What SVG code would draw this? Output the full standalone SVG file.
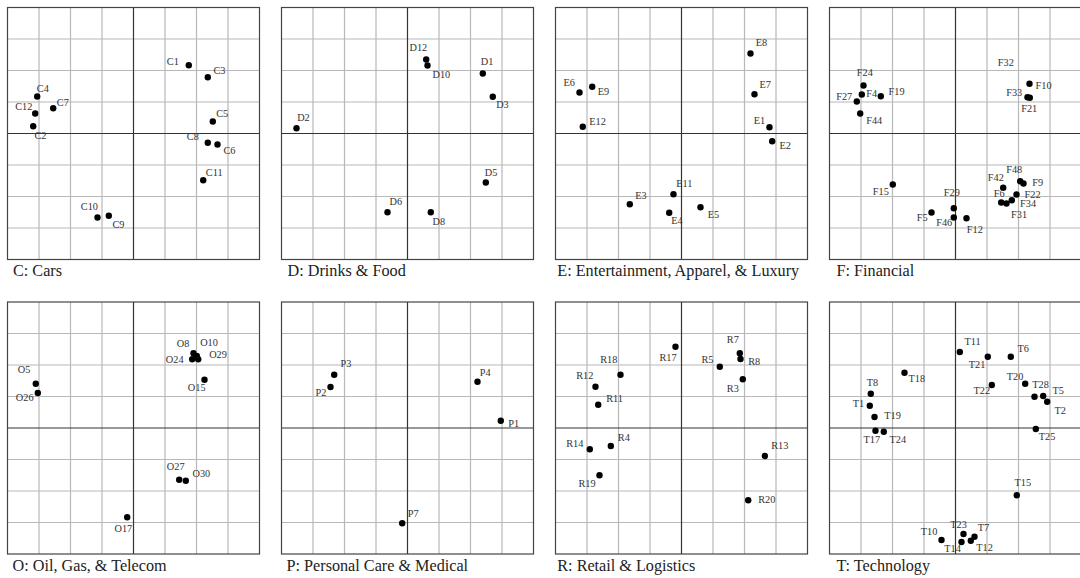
<svg xmlns="http://www.w3.org/2000/svg" xmlns:xlink="http://www.w3.org/1999/xlink" width="1080" height="578" viewBox="0 0 1080 578">
<style>
.minor{stroke:#b8b8b8;stroke-width:1.2;fill:none}
.axis{stroke:#333;stroke-width:1.2;fill:none}
.frame{stroke:#444;stroke-width:1.2;fill:none}
.dot{fill:#000}
.lb{font-family:"Liberation Serif",serif;font-size:10.3px;fill:#333}
.cap{font-family:"Liberation Serif",serif;font-size:16.2px;fill:#222}
</style>
<defs>
<g id="gridtpl">
<path class="minor" d="M31.5 0V252M63 0V252M94.5 0V252M157.5 0V252M189 0V252M220.5 0V252M0 31.5H252M0 63H252M0 94.5H252M0 157.5H252M0 189H252M0 220.5H252"/>
<path class="axis" d="M126 0V252M0 126H252"/>
<rect class="frame" x="0" y="0" width="252" height="252"/>
</g>
</defs>
<rect width="1080" height="578" fill="#fff"/>
<g id="connectors"/>

<g id="panelC" transform="translate(7.5,7.5)">
<use xlink:href="#gridtpl"/>
<g id="C1"><circle class="dot" cx="181.3" cy="57.7" r="3.2"/><text class="lb" x="159.3" y="57.7">C1</text></g>
<g id="C3"><circle class="dot" cx="200.3" cy="69.7" r="3.2"/><text class="lb" x="206" y="66">C3</text></g>
<g id="C4"><circle class="dot" cx="29.7" cy="89" r="3.2"/><text class="lb" x="29.3" y="84.3">C4</text></g>
<g id="C7"><circle class="dot" cx="45.7" cy="100.7" r="3.2"/><text class="lb" x="49.3" y="98.7">C7</text></g>
<g id="C12"><circle class="dot" cx="27.7" cy="106" r="3.2"/><text class="lb" x="7.7" y="102.7">C12</text></g>
<g id="C2"><circle class="dot" cx="25.7" cy="118.7" r="3.2"/><text class="lb" x="27" y="131.7">C2</text></g>
<g id="C5"><circle class="dot" cx="205.3" cy="114" r="3.2"/><text class="lb" x="208.7" y="109.3">C5</text></g>
<g id="C8"><circle class="dot" cx="200.3" cy="135.3" r="3.2"/><text class="lb" x="179.3" y="132">C8</text></g>
<g id="C6"><circle class="dot" cx="210" cy="137" r="3.2"/><text class="lb" x="216" y="146">C6</text></g>
<g id="C11"><circle class="dot" cx="195.7" cy="172.7" r="3.2"/><text class="lb" x="198.3" y="168.3">C11</text></g>
<g id="C10"><circle class="dot" cx="90" cy="210" r="3.2"/><text class="lb" x="73.3" y="202.7">C10</text></g>
<g id="C9"><circle class="dot" cx="101.3" cy="208.3" r="3.2"/><text class="lb" x="105" y="220.3">C9</text></g>
<text class="cap" x="5.5" y="268">C: Cars</text>
</g>

<g id="panelD" transform="translate(281.5,7.5)">
<use xlink:href="#gridtpl"/>
<g id="D12"><circle class="dot" cx="144.7" cy="52" r="3.2"/><text class="lb" x="128" y="43.3">D12</text></g>
<g id="D10"><circle class="dot" cx="146" cy="58" r="3.2"/><text class="lb" x="151" y="70">D10</text></g>
<g id="D1"><circle class="dot" cx="201.3" cy="66" r="3.2"/><text class="lb" x="199.3" y="57">D1</text></g>
<g id="D3"><circle class="dot" cx="211.3" cy="89.3" r="3.2"/><text class="lb" x="214.7" y="100">D3</text></g>
<g id="D2"><circle class="dot" cx="15" cy="120.7" r="3.2"/><text class="lb" x="15.7" y="113.3">D2</text></g>
<g id="D5"><circle class="dot" cx="204.3" cy="175" r="3.2"/><text class="lb" x="203.3" y="168.3">D5</text></g>
<g id="D6"><circle class="dot" cx="106" cy="204.7" r="3.2"/><text class="lb" x="108" y="197.7">D6</text></g>
<g id="D8"><circle class="dot" cx="149.3" cy="204.7" r="3.2"/><text class="lb" x="151" y="217.7">D8</text></g>
<text class="cap" x="6" y="268">D: Drinks &amp; Food</text>
</g>

<g id="panelE" transform="translate(555.5,7.5)">
<use xlink:href="#gridtpl"/>
<g id="E8"><circle class="dot" cx="195" cy="46" r="3.2"/><text class="lb" x="200.3" y="38.7">E8</text></g>
<g id="E6"><circle class="dot" cx="24" cy="85" r="3.2"/><text class="lb" x="8" y="78.7">E6</text></g>
<g id="E9"><circle class="dot" cx="36.7" cy="79.3" r="3.2"/><text class="lb" x="42.3" y="87">E9</text></g>
<g id="E7"><circle class="dot" cx="199" cy="86.7" r="3.2"/><text class="lb" x="204" y="80.3">E7</text></g>
<g id="E12"><circle class="dot" cx="27.3" cy="119.3" r="3.2"/><text class="lb" x="33.7" y="117">E12</text></g>
<g id="E1"><circle class="dot" cx="214" cy="119.7" r="3.2"/><text class="lb" x="198.3" y="116.7">E1</text></g>
<g id="E2"><circle class="dot" cx="216.7" cy="133.7" r="3.2"/><text class="lb" x="224" y="141.3">E2</text></g>
<g id="E11"><circle class="dot" cx="118" cy="186.7" r="3.2"/><text class="lb" x="120.7" y="179.3">E11</text></g>
<g id="E3"><circle class="dot" cx="74.3" cy="196.7" r="3.2"/><text class="lb" x="79.7" y="191.3">E3</text></g>
<g id="E4"><circle class="dot" cx="113.7" cy="205.3" r="3.2"/><text class="lb" x="115.7" y="216.7">E4</text></g>
<g id="E5"><circle class="dot" cx="145" cy="199.7" r="3.2"/><text class="lb" x="152.3" y="210">E5</text></g>
<text class="cap" x="1.8" y="268">E: Entertainment, Apparel, &amp; Luxury</text>
</g>

<g id="panelF" transform="translate(829.5,7.5)">
<use xlink:href="#gridtpl"/>
<text class="lb" x="168.3" y="58.3">F32</text>
<g id="F10"><circle class="dot" cx="200" cy="76.3" r="3.2"/><text class="lb" x="206" y="81">F10</text></g>
<g id="F33"><circle class="dot" cx="198" cy="89.7" r="3.2"/><text class="lb" x="176.7" y="88">F33</text></g>
<g id="F21"><circle class="dot" cx="200.3" cy="90.3" r="3.2"/><text class="lb" x="191.7" y="104.3">F21</text></g>
<g id="F24"><circle class="dot" cx="34" cy="78" r="3.2"/><text class="lb" x="27.3" y="68">F24</text></g>
<g id="F4"><circle class="dot" cx="32.3" cy="87" r="3.2"/><text class="lb" x="36.7" y="89.3">F4</text></g>
<g id="F19"><circle class="dot" cx="51.3" cy="88.7" r="3.2"/><text class="lb" x="59" y="87">F19</text></g>
<g id="F27"><circle class="dot" cx="27.3" cy="94" r="3.2"/><text class="lb" x="6.7" y="92.7">F27</text></g>
<g id="F44"><circle class="dot" cx="30.7" cy="106" r="3.2"/><text class="lb" x="36.7" y="116">F44</text></g>
<g id="F15"><circle class="dot" cx="63.3" cy="177" r="3.2"/><text class="lb" x="43.3" y="187.7">F15</text></g>
<g id="F29"><circle class="dot" cx="124.3" cy="200.7" r="3.2"/><text class="lb" x="114.3" y="188.3">F29</text></g>
<g id="F5"><circle class="dot" cx="102" cy="205" r="3.2"/><text class="lb" x="87.3" y="213.7">F5</text></g>
<g id="F46"><circle class="dot" cx="124.3" cy="210" r="3.2"/><text class="lb" x="106.7" y="218.3">F46</text></g>
<g id="F12"><circle class="dot" cx="137" cy="210.7" r="3.2"/><text class="lb" x="137.3" y="225.3">F12</text></g>
<g id="F42"><circle class="dot" cx="173.7" cy="180.3" r="3.2"/><text class="lb" x="158.3" y="173.7">F42</text></g>
<g id="F48"><circle class="dot" cx="190.7" cy="173.7" r="3.2"/><text class="lb" x="176.7" y="165">F48</text></g>
<g id="F9"><circle class="dot" cx="194" cy="176" r="3.2"/><text class="lb" x="202.7" y="178.3">F9</text></g>
<g id="F6"><circle class="dot" cx="171.7" cy="195" r="3.2"/><text class="lb" x="164.3" y="189.3">F6</text></g>
<g id="F31"><circle class="dot" cx="177" cy="196" r="3.2"/><text class="lb" x="181.5" y="210.5">F31</text></g>
<g id="F34"><circle class="dot" cx="182.3" cy="192.7" r="3.2"/><text class="lb" x="190.5" y="199.5">F34</text></g>
<g id="F22"><circle class="dot" cx="187" cy="187" r="3.2"/><text class="lb" x="195" y="190.3">F22</text></g>
<text class="cap" x="7" y="268">F: Financial</text>
</g>

<g id="panelO" transform="translate(7.5,302)">
<use xlink:href="#gridtpl"/>
<g id="O8"><circle class="dot" cx="186" cy="51.3" r="3.2"/><text class="lb" x="169.3" y="45.3">O8</text></g>
<g id="O10"><circle class="dot" cx="189.3" cy="54" r="3.2"/><text class="lb" x="192.7" y="44.3">O10</text></g>
<g id="O24"><circle class="dot" cx="184.7" cy="57.3" r="3.2"/><text class="lb" x="158.3" y="60.7">O24</text></g>
<g id="O29"><circle class="dot" cx="190.7" cy="57.3" r="3.2"/><text class="lb" x="201.7" y="55.5">O29</text></g>
<g id="O15"><circle class="dot" cx="197" cy="77.7" r="3.2"/><text class="lb" x="180.3" y="88.7">O15</text></g>
<g id="O5"><circle class="dot" cx="28.3" cy="81.7" r="3.2"/><text class="lb" x="10.3" y="71.3">O5</text></g>
<g id="O26"><circle class="dot" cx="30.3" cy="91" r="3.2"/><text class="lb" x="8.3" y="98.7">O26</text></g>
<g id="O27"><circle class="dot" cx="171.7" cy="177.7" r="3.2"/><text class="lb" x="159.3" y="168">O27</text></g>
<g id="O30"><circle class="dot" cx="178.3" cy="178.7" r="3.2"/><text class="lb" x="185" y="174.7">O30</text></g>
<g id="O17"><circle class="dot" cx="119.7" cy="215.3" r="3.2"/><text class="lb" x="107" y="229.7">O17</text></g>
<text class="cap" x="5" y="269">O: Oil, Gas, &amp; Telecom</text>
</g>

<g id="panelP" transform="translate(281.5,302)">
<use xlink:href="#gridtpl"/>
<g id="P3"><circle class="dot" cx="52.7" cy="72.7" r="3.2"/><text class="lb" x="59" y="64.7">P3</text></g>
<g id="P2"><circle class="dot" cx="49" cy="85" r="3.2"/><text class="lb" x="34" y="94">P2</text></g>
<g id="P4"><circle class="dot" cx="196" cy="79.7" r="3.2"/><text class="lb" x="198.3" y="74">P4</text></g>
<g id="P1"><circle class="dot" cx="219.3" cy="118.7" r="3.2"/><text class="lb" x="226.7" y="125.3">P1</text></g>
<g id="P7"><circle class="dot" cx="120.7" cy="221.3" r="3.2"/><text class="lb" x="126.3" y="214.7">P7</text></g>
<text class="cap" x="5" y="269">P: Personal Care &amp; Medical</text>
</g>

<g id="panelR" transform="translate(555.5,302)">
<use xlink:href="#gridtpl"/>
<g id="R17"><circle class="dot" cx="120" cy="44.7" r="3.2"/><text class="lb" x="104" y="59">R17</text></g>
<g id="R7"><circle class="dot" cx="184.3" cy="51.3" r="3.2"/><text class="lb" x="171.3" y="41.3">R7</text></g>
<g id="R8"><circle class="dot" cx="185" cy="57" r="3.2"/><text class="lb" x="192.7" y="63">R8</text></g>
<g id="R5"><circle class="dot" cx="164.3" cy="64.7" r="3.2"/><text class="lb" x="146" y="60.7">R5</text></g>
<g id="R3"><circle class="dot" cx="187.3" cy="77.3" r="3.2"/><text class="lb" x="171.3" y="89.7">R3</text></g>
<g id="R18"><circle class="dot" cx="65" cy="72.7" r="3.2"/><text class="lb" x="44.7" y="60.7">R18</text></g>
<g id="R12"><circle class="dot" cx="40" cy="84.7" r="3.2"/><text class="lb" x="20.7" y="77.3">R12</text></g>
<g id="R11"><circle class="dot" cx="42.7" cy="102.7" r="3.2"/><text class="lb" x="50.7" y="100.3">R11</text></g>
<g id="R14"><circle class="dot" cx="34.3" cy="147.3" r="3.2"/><text class="lb" x="10.7" y="144.7">R14</text></g>
<g id="R4"><circle class="dot" cx="55.3" cy="144" r="3.2"/><text class="lb" x="62.3" y="138.7">R4</text></g>
<g id="R19"><circle class="dot" cx="44" cy="173.3" r="3.2"/><text class="lb" x="23" y="184.7">R19</text></g>
<g id="R13"><circle class="dot" cx="209.3" cy="154" r="3.2"/><text class="lb" x="215.7" y="147.3">R13</text></g>
<g id="R20"><circle class="dot" cx="192.7" cy="198.3" r="3.2"/><text class="lb" x="202.7" y="201.3">R20</text></g>
<text class="cap" x="1.8" y="269">R: Retail &amp; Logistics</text>
</g>

<g id="panelT" transform="translate(829.5,302)">
<use xlink:href="#gridtpl"/>
<g id="T11"><circle class="dot" cx="130.3" cy="50" r="3.2"/><text class="lb" x="135" y="43">T11</text></g>
<g id="T21"><circle class="dot" cx="158.3" cy="54.7" r="3.2"/><text class="lb" x="139.3" y="66.3">T21</text></g>
<g id="T6"><circle class="dot" cx="181.3" cy="54.7" r="3.2"/><text class="lb" x="188" y="49.7">T6</text></g>
<g id="T18"><circle class="dot" cx="75" cy="70.7" r="3.2"/><text class="lb" x="79" y="80.3">T18</text></g>
<g id="T20"><circle class="dot" cx="195.7" cy="81.7" r="3.2"/><text class="lb" x="177.3" y="78">T20</text></g>
<g id="T22"><circle class="dot" cx="162.3" cy="83" r="3.2"/><text class="lb" x="144" y="92.3">T22</text></g>
<g id="T28"><circle class="dot" cx="205" cy="94.7" r="3.2"/><text class="lb" x="202.7" y="86.3">T28</text></g>
<g id="T5"><circle class="dot" cx="213.7" cy="94" r="3.2"/><text class="lb" x="223" y="92">T5</text></g>
<g id="T2"><circle class="dot" cx="217.7" cy="99.7" r="3.2"/><text class="lb" x="225" y="112">T2</text></g>
<g id="T8"><circle class="dot" cx="41.3" cy="91.7" r="3.2"/><text class="lb" x="37.3" y="84">T8</text></g>
<g id="T1"><circle class="dot" cx="40.3" cy="103.7" r="3.2"/><text class="lb" x="23.3" y="104.7">T1</text></g>
<g id="T19"><circle class="dot" cx="45" cy="115" r="3.2"/><text class="lb" x="54.7" y="117.3">T19</text></g>
<g id="T17"><circle class="dot" cx="46" cy="128.7" r="3.2"/><text class="lb" x="34" y="141.3">T17</text></g>
<g id="T24"><circle class="dot" cx="54.3" cy="129.7" r="3.2"/><text class="lb" x="60" y="141.3">T24</text></g>
<g id="T25"><circle class="dot" cx="206.3" cy="127" r="3.2"/><text class="lb" x="209.3" y="138">T25</text></g>
<g id="T15"><circle class="dot" cx="187.3" cy="193.3" r="3.2"/><text class="lb" x="185" y="184">T15</text></g>
<g id="T10"><circle class="dot" cx="112" cy="238" r="3.2"/><text class="lb" x="91.3" y="233">T10</text></g>
<g id="T23"><circle class="dot" cx="134" cy="232" r="3.2"/><text class="lb" x="120.7" y="226.3">T23</text></g>
<g id="T14"><circle class="dot" cx="132" cy="240" r="3.2"/><text class="lb" x="114.7" y="249.7">T14</text></g>
<g id="T7"><circle class="dot" cx="145" cy="234.7" r="3.2"/><text class="lb" x="148.3" y="228.7">T7</text></g>
<g id="T12"><circle class="dot" cx="141.3" cy="238.7" r="3.2"/><text class="lb" x="146.7" y="248.7">T12</text></g>
<text class="cap" x="7" y="269">T: Technology</text>
</g>
</svg>
